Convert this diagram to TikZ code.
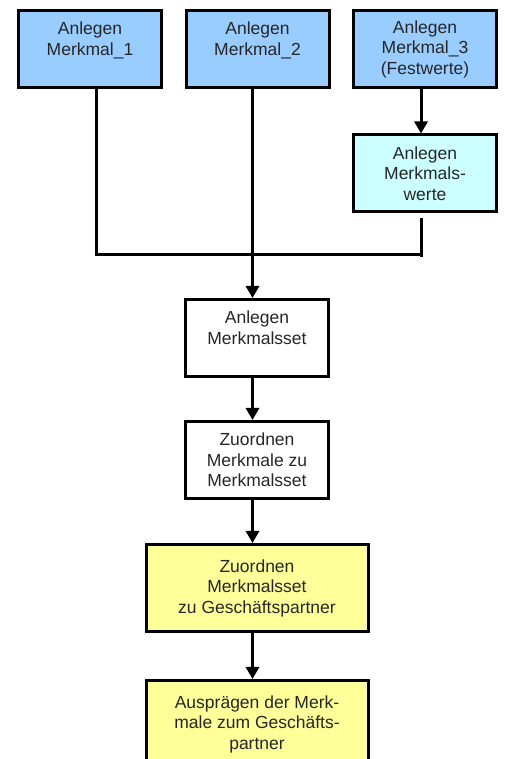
\documentclass[tikz,border=0pt]{standalone}
\usepackage{fontspec}
\setmainfont{Liberation Sans}
\usetikzlibrary{arrows.meta}
\definecolor{merkmalblau}{RGB}{153,204,255}
\definecolor{wertecyan}{RGB}{204,255,255}
\definecolor{partnergelb}{RGB}{255,255,153}

\begin{document}
\begin{tikzpicture}[x=1pt,y=1pt,
    kasten/.style={draw, line width=3pt, align=center, text=black!85,
      minimum width=143pt, minimum height=77pt, inner sep=0pt,
      font=\fontsize{17.5}{20.5}\selectfont},
    blau/.style={kasten, fill=merkmalblau},
    cyan/.style={kasten, fill=wertecyan},
    weiss/.style={kasten, fill=white},
    gelb/.style={kasten, fill=partnergelb, minimum width=222pt, minimum height=87pt},
    linie/.style={line width=3pt},
    pfeil/.style={linie, -{Triangle[width=13pt,length=12pt]}}]
    \useasboundingbox (0,0) rectangle (504,759);
    % Merkmale
    \node[blau] (m1) at (90,710) {Anlegen\\Merkmal\_1\\~};
    \node[blau] (m2) at (257.5,710) {Anlegen\\Merkmal\_2\\~};
    \node[blau] (m3) at (425,710) {Anlegen\\Merkmal\_3\\(Festwerte)};
    \node[cyan] (werte) at (425,585.5) {Anlegen\\Merkmals-\\werte};
    % Merkmalsset
    \node[weiss] (set) at (257,421) {Anlegen\\Merkmalsset\\~};
    \node[weiss] (zuord) at (257,299) {Zuordnen\\Merkmale zu\\Merkmalsset};
    % Geschaeftspartner
    \node[gelb] (gp) at (257,171) {Zuordnen\\Merkmalsset\\zu Geschäftspartner};
    \node[gelb] (auspr) at (257,35) {Ausprägen der Merk-\\male zum Geschäfts-\\partner};
    % Linien
    \coordinate (knoten) at (421,504);
    \draw[linie] ([xshift=6pt]m1.south) |- (knoten);
    \draw[linie] ([xshift=-4pt,yshift=-5pt]werte.south) -- ([yshift=-2pt]knoten);
    \draw[pfeil] ([xshift=-4pt]m3.south) -- ([xshift=-4pt]werte.north);
    \draw[pfeil] ([xshift=-5pt]m2.south) -- ([xshift=-4.5pt]set.north);
    \draw[pfeil] ([xshift=-4.5pt]set.south) -- ([xshift=-4.5pt]zuord.north);
    \draw[pfeil] ([xshift=-4.5pt]zuord.south) -- ([xshift=-4.5pt]gp.north);
    \draw[pfeil] ([xshift=-4.5pt]gp.south) -- ([xshift=-4.5pt]auspr.north);
\end{tikzpicture}
\end{document}
